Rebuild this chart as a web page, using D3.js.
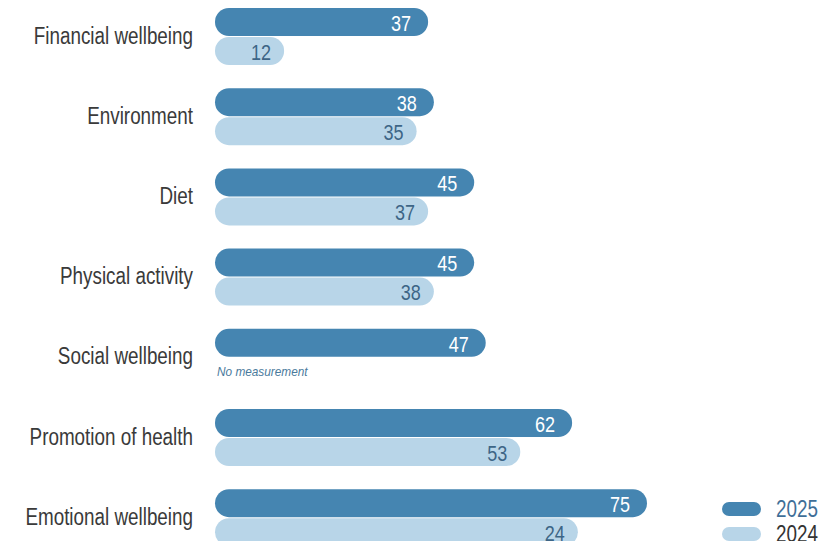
<!DOCTYPE html>
<html>
<head>
<meta charset="utf-8">
<script src="https://cdn.jsdelivr.net/npm/d3@7"></script>
<style>
  html, body { margin: 0; padding: 0; background: #ffffff; }
  svg { display: block; }
  text { font-family: "Liberation Sans", Arial, sans-serif; }
</style>
</head>
<body>
<svg id="chart" width="836" height="541"></svg>
<script>
// ---- data ----
const categories = ["Financial wellbeing", "Environment", "Diet", "Physical activity", "Social wellbeing", "Promotion of health", "Emotional wellbeing"];
const values2025 = [37, 38, 45, 45, 47, 62, 75];
// bar lengths for 2024 as drawn in the reference
const values2024 = [12, 35, 37, 38, null, 53, 63];
// value labels printed on the 2024 bars
const labels2024 = ["12", "35", "37", "38", null, "53", "24"];
const labels2025 = values2025.map(String);
const seriesNames = ["2025", "2024"];
const noDataText = "No measurement";

// ---- layout ----
const colDark = "#4585b1", colLight = "#b8d5e8";
const barH = 28, gap = 1, narrow = 0.82;
const svg = d3.select("#chart");

const x = d3.scaleLinear().domain([0, 100]).range([215, 791]);
const y = d3.scaleBand().domain(categories).range([8, 8 + 7 * 80.2]).padding(0);

const rows = categories.map((c, i) => ({ c, v25: values2025[i], v24: values2024[i], l25: labels2025[i], l24: labels2024[i] }));

const g = svg.append("g");
const place = (px, py, s = narrow) => `translate(${px},${py}) scale(${s},1)`;

// category labels
g.selectAll("text.cat").data(rows).join("text")
  .attr("class", "cat")
  .attr("transform", d => place(193, y(d.c) + barH - 0.5))
  .attr("dy", "0.35em")
  .attr("text-anchor", "end")
  .attr("font-size", 23)
  .attr("fill", "#3a3a3a")
  .text(d => d.c);

// 2025 bars
g.selectAll("rect.b25").data(rows).join("rect")
  .attr("class", "b25")
  .attr("x", x(0))
  .attr("y", d => y(d.c))
  .attr("width", d => x(d.v25) - x(0))
  .attr("height", barH)
  .attr("rx", barH / 2)
  .attr("fill", colDark);

// 2024 bars
const r24 = rows.filter(d => d.v24 != null);
g.selectAll("rect.b24").data(r24).join("rect")
  .attr("class", "b24")
  .attr("x", x(0))
  .attr("y", d => y(d.c) + barH + gap)
  .attr("width", d => x(d.v24) - x(0))
  .attr("height", barH)
  .attr("rx", barH / 2)
  .attr("fill", colLight);

// value labels
g.selectAll("text.v25").data(rows).join("text")
  .attr("class", "v25")
  .attr("transform", d => place(x(d.v25) - 17, y(d.c) + barH / 2 + 1))
  .attr("dy", "0.35em")
  .attr("text-anchor", "end")
  .attr("font-size", 22)
  .attr("fill", "#ffffff")
  .text(d => d.l25);

g.selectAll("text.v24").data(r24).join("text")
  .attr("class", "v24")
  .attr("transform", d => place(x(d.v24) - 13, y(d.c) + barH + gap + barH / 2 + 1))
  .attr("dy", "0.35em")
  .attr("text-anchor", "end")
  .attr("font-size", 22)
  .attr("fill", "#3d6586")
  .text(d => d.l24);

// no measurement note
rows.filter(d => d.v24 == null).forEach(d => {
  g.append("text")
    .attr("transform", place(x(0) + 2, y(d.c) + barH + gap + 18, 0.91))
    .attr("font-size", 13)
    .attr("font-style", "italic")
    .attr("fill", "#4a7a9c")
    .text(noDataText);
});

// legend
const legend = svg.append("g");
const legCols = [colDark, colLight];
const legText = ["#3f6f98", "#333333"];
seriesNames.forEach((s, i) => {
  const ly = 502 + i * 25;
  legend.append("rect")
    .attr("x", 722).attr("y", ly)
    .attr("width", 39).attr("height", 14)
    .attr("rx", 7)
    .attr("fill", legCols[i]);
  legend.append("text")
    .attr("transform", place(776, ly + 7))
    .attr("dy", "0.35em")
    .attr("font-size", 23)
    .attr("fill", legText[i])
    .text(s);
});
</script>
</body>
</html>
